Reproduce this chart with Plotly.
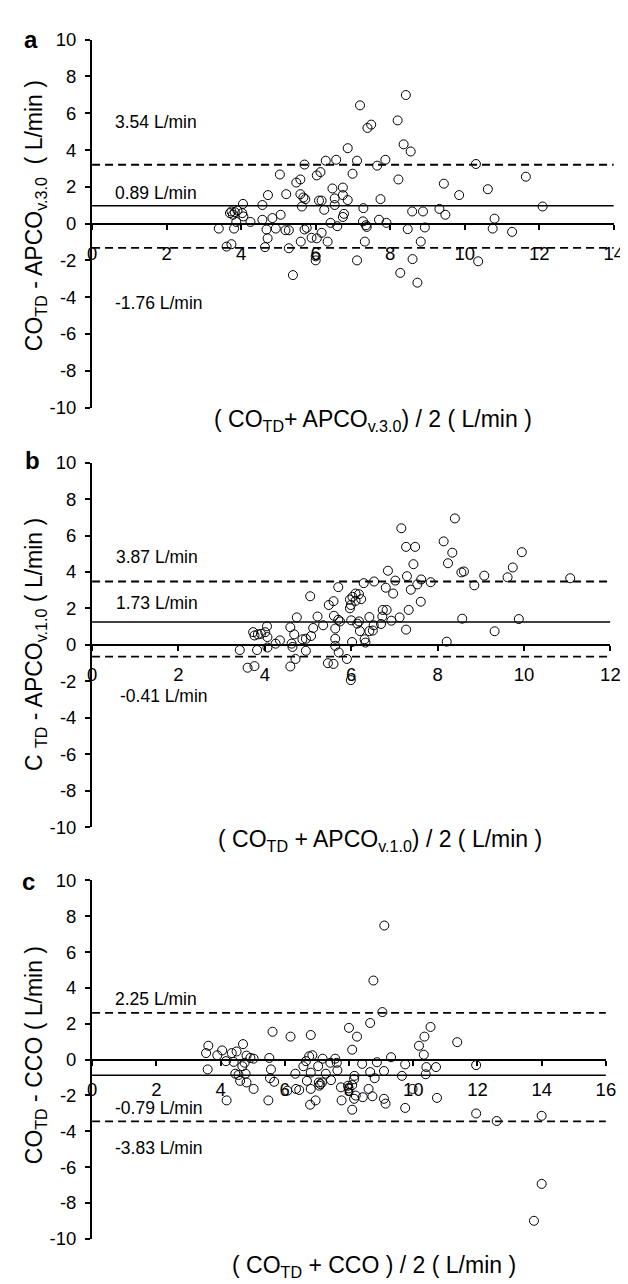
import plotly.graph_objects as go

# ---------------- data ----------------
# Panel a: CO_TD vs APCO v.3.0
a_avg = [8.42, 7.19, 7.49, 7.39, 8.20, 8.36, 8.55, 6.86, 7.87, 7.65, 7.11, 6.55, 6.27, 5.70,
         5.04, 6.13, 6.03, 6.99, 5.48, 5.59, 8.22, 9.44, 6.45, 6.73, 4.72, 5.21, 5.59, 5.67,
         5.72, 6.73, 6.51, 6.86, 6.09, 6.16, 7.74, 9.85, 4.05, 4.57, 5.63, 6.51, 6.23, 7.28,
         3.74, 3.70, 3.83, 3.90, 4.03, 3.78, 4.06, 8.59, 8.88, 9.32, 9.48, 5.06, 6.76, 6.73,
         4.84, 4.57, 4.25, 3.87, 7.27, 7.70, 7.90, 6.40, 7.37, 7.35, 6.58, 3.40, 3.81, 4.68,
         4.93, 5.19, 5.28, 5.70, 5.76, 6.16, 8.47, 8.93, 4.71, 5.89, 6.03, 5.60, 6.32, 7.32,
         8.82, 3.61, 3.74, 4.64, 5.28, 6.00, 6.00, 7.11, 8.60, 5.39, 8.27, 8.73, 10.30, 10.62,
         11.64, 12.09, 10.80, 10.75, 11.27, 10.36]
a_diff = [6.99, 6.43, 5.38, 5.20, 5.61, 4.31, 3.92, 4.10, 3.47, 3.15, 3.42, 3.47, 3.42, 3.21,
          2.67, 2.80, 2.62, 2.71, 2.23, 2.40, 2.40, 2.17, 1.91, 1.96, 1.55, 1.60, 1.60, 1.42,
          1.33, 1.55, 1.37, 1.28, 1.25, 1.25, 1.33, 1.55, 1.07, 1.01, 0.93, 1.01, 0.75, 0.84,
          0.66, 0.57, 0.62, 0.71, 0.57, 0.48, 0.39, 0.66, 0.66, 0.80, 0.48, 0.48, 0.53, 0.36,
          0.30, 0.21, 0.09, 0.09, 0.12, 0.21, 0.04, 0.04, -0.18, -0.09, -0.14, -0.27, -0.27, -0.32,
          -0.27, -0.36, -0.36, -0.32, -0.23, -0.50, -0.30, -0.21, -0.80, -0.77, -0.80, -0.98, -0.98, -0.98,
          -0.98, -1.25, -1.12, -1.28, -1.34, -1.78, -2.00, -2.00, -1.93, -2.80, -2.68, -3.21, 3.24, 1.87,
          2.55, 0.93, 0.27, -0.27, -0.45, -2.05]
a_lines = [3.20, 0.97, -1.32]          # upper limit, bias, lower limit (as drawn)
a_labels = ["3.54 L/min", "0.89 L/min", "-1.76 L/min"]

# Panel b: CO_TD vs APCO v.1.0
b_avg = [8.40, 7.16, 7.27, 7.48, 8.14, 8.34, 8.24, 7.44, 6.85, 8.55, 8.61, 9.08, 7.29, 7.62,
         7.84, 7.02, 6.53, 6.29, 7.53, 6.80, 7.38, 8.85, 6.97, 5.70, 7.61, 5.05, 5.48, 5.59,
         6.10, 6.18, 6.03, 5.97, 6.10, 6.23, 5.97, 5.99, 6.73, 6.82, 7.33, 4.74, 5.22, 5.60,
         5.70, 5.74, 6.42, 6.72, 7.12, 8.57, 6.00, 6.18, 6.14, 4.05, 4.59, 5.12, 5.35, 5.63,
         6.52, 6.69, 6.93, 7.27, 6.20, 6.42, 6.50, 3.73, 3.76, 3.84, 3.91, 4.01, 4.06, 4.68,
         5.07, 4.87, 4.95, 4.35, 4.25, 4.06, 4.62, 4.64, 5.63, 6.31, 6.33, 6.02, 5.63, 8.21,
         3.42, 3.82, 4.95, 4.71, 4.59, 5.71, 5.46, 5.59, 5.90, 3.60, 3.76, 5.99, 9.95, 9.74,
         9.62, 11.07, 9.88, 9.32]
b_diff = [6.94, 6.40, 5.38, 5.38, 5.68, 5.06, 4.48, 4.43, 4.07, 3.98, 4.03, 3.80, 3.77, 3.59,
          3.44, 3.53, 3.48, 3.39, 3.32, 3.14, 3.03, 3.27, 2.82, 3.17, 2.37, 2.67, 2.19, 2.40,
          2.82, 2.78, 2.64, 2.49, 2.42, 2.51, 2.01, 2.19, 1.92, 1.92, 1.92, 1.51, 1.56, 1.60,
          1.38, 1.29, 1.53, 1.56, 1.51, 1.44, 1.35, 1.29, 1.17, 1.02, 0.97, 0.93, 1.08, 0.90,
          1.08, 1.15, 1.33, 0.84, 0.76, 0.76, 0.79, 0.70, 0.52, 0.58, 0.61, 0.70, 0.43, 0.58,
          0.49, 0.31, 0.34, 0.25, 0.07, -0.14, 0.07, -0.11, 0.34, 0.31, 0.13, 0.16, -0.05, 0.18,
          -0.28, -0.28, -0.32, -0.77, -1.18, -0.41, -1.00, -1.04, -0.77, -1.25, -1.16, -1.93, 5.09, 4.25,
          3.71, 3.66, 1.42, 0.75]
b_lines = [3.48, 1.26, -0.64]
b_labels = ["3.87 L/min", "1.73 L/min", "-0.41 L/min"]

# Panel c: CO_TD vs CCO
c_avg = [9.04, 8.66, 8.00, 8.25, 10.54, 10.35, 10.18, 10.33, 11.37, 5.62, 6.18, 6.81, 8.10, 3.62,
         3.55, 4.05, 3.90, 4.35, 4.50, 4.70, 4.17, 4.41, 4.81, 4.93, 5.03, 4.75, 4.68, 3.60,
         4.46, 4.56, 4.78, 4.61, 4.81, 5.03, 4.19, 5.52, 5.57, 5.54, 5.67, 5.49, 6.33, 6.08,
         6.35, 6.45, 6.58, 6.76, 6.86, 6.66, 7.18, 7.04, 6.81, 6.69, 6.81, 7.06, 7.11, 7.16,
         7.08, 7.28, 7.42, 7.57, 7.62, 7.64, 7.44, 6.96, 6.79, 7.75, 7.97, 7.99, 8.17, 8.16,
         8.10, 8.21, 8.16, 7.77, 8.10, 8.41, 8.43, 8.66, 8.61, 8.73, 8.80, 8.87, 9.09, 9.31,
         9.09, 9.14, 9.65, 9.75, 9.98, 9.75, 10.39, 10.41, 10.71, 10.74, 9.10, 8.76, 11.96, 11.96,
         12.60, 14.00, 14.00, 13.76]
c_diff = [2.65, 2.04, 1.77, 1.28, 1.82, 1.28, 0.77, 0.27, 0.97, 1.55, 1.28, 1.37, 0.55, 0.77,
          0.36, 0.51, 0.24, 0.36, 0.45, 0.86, -0.09, -0.13, 0.22, 0.09, 0.05, -0.18, -0.37, -0.55,
          -0.79, -0.86, -0.79, -1.19, -1.28, -1.64, -2.28, 0.09, -0.55, -1.04, -1.24, -2.28, -0.79, -1.74,
          -1.64, -1.70, -0.37, 0.18, 0.24, -0.09, 0.05, -0.37, -0.73, -1.19, -1.64, -1.28, -1.37, -1.28,
          -1.46, -0.79, -0.18, 0.05, -0.18, -0.60, -1.15, -2.28, -2.52, -1.55, -1.46, -1.61, -0.91, -1.10,
          -1.43, -2.01, -2.19, -2.28, -2.80, -0.24, -2.10, -0.70, -1.64, -2.05, -1.04, -0.15, -0.64, 0.13,
          -2.19, -2.46, -0.91, -0.27, -1.64, -2.70, -0.82, -0.42, -0.42, -2.14, 7.48, 4.41, -0.31, -3.01,
          -3.43, -3.14, -6.94, -9.00]
c_lines = [2.61, -0.88, -3.45]
c_labels = ["2.25 L/min", "-0.79 L/min", "-3.83 L/min"]

x_maxes = [14, 12, 16]
y_ticks = [-10, -8, -6, -4, -2, 0, 2, 4, 6, 8, 10]
y_ticktext = ["-10", "-8", "-6", "-4", "-2", "0", "2", "4", "6", "8", "10"]
panel_letters = ["a", "b", "c"]
x_titles = ["( CO<sub>TD</sub>+ APCO<sub>v.3.0</sub>) / 2 ( L/min )",
            "( CO<sub>TD</sub> + APCO<sub>v.1.0</sub>) / 2 ( L/min )",
            "( CO<sub>TD</sub> + CCO ) / 2 ( L/min )"]
y_titles = ["CO<sub>TD</sub> - APCO<sub>v.3.0</sub>  ( L/min )",
            "C <sub>TD</sub> - APCO<sub>v.1.0</sub> ( L/min )",
            "CO<sub>TD</sub> - CCO ( L/min )"]

# ---------------- layout geometry ----------------
W, H = 628, 1284
FONT = "Liberation Sans, Arial, Helvetica, sans-serif"
x_domains = [[81.0 / W, 615.5 / W], [81.0 / W, 612.0 / W], [81.0 / W, 607.4 / W]]
y_domains = [[1 - 395.0 / H, 1 - 21.0 / H], [1 - 821.7 / H, 1 - 451.0 / H], [1 - 1240.0 / H, 1 - 875.7 / H]]
label_pos = [[(0.55, 5.52), (0.55, 1.69), (0.55, -4.33)],
             [(0.50, 4.82), (0.50, 2.31), (0.60, -2.80)],
             [(0.64, 3.37), (0.64, -2.70), (0.64, -4.93)]]
xtitle_px = [(369, 408), (376, 835), (370, 1268)]
ytitle_py = [200, 636, 1053]
letter_px = [(18, 21), (20, 449), (16, 877)]

datasets = [(a_avg, a_diff, a_lines, a_labels),
            (b_avg, b_diff, b_lines, b_labels),
            (c_avg, c_diff, c_lines, c_labels)]

fig = go.Figure()
annotations = []
layout_axes = {}

for i, (avg, diff, lines, labels) in enumerate(datasets):
    n = "" if i == 0 else str(i + 1)
    xa, ya = "x" + n, "y" + n
    xmax = x_maxes[i]
    # limit/bias lines
    for j, v in enumerate(lines):
        fig.add_trace(go.Scatter(
            x=[0, xmax], y=[v, v], mode="lines", xaxis=xa, yaxis=ya,
            line=dict(color="black", width=1.8 if j != 1 else 1.5,
                      dash="8px,5px" if j != 1 else "solid"),
            hoverinfo="skip", showlegend=False))
    # points
    fig.add_trace(go.Scatter(
        x=avg, y=diff, mode="markers", xaxis=xa, yaxis=ya,
        marker=dict(symbol="circle-open", size=9, color="black", line=dict(width=1)),
        showlegend=False))

    yd = y_domains[i]
    ymid = (yd[0] + yd[1]) / 2
    layout_axes["xaxis" + n] = dict(
        domain=x_domains[i], range=[0, xmax], anchor="free", position=ymid,
        showline=True, linecolor="black", linewidth=2,
        ticks="outside", ticklen=5, tickwidth=1.5, tickcolor="black",
        tickvals=list(range(0, xmax + 1, 2)), ticklabelstandoff=8,
        showgrid=False, zeroline=False,
        tickfont=dict(family=FONT, size=18.5, color="black"))
    layout_axes["yaxis" + n] = dict(
        domain=yd, range=[-10, 10], anchor=xa,
        showline=True, linecolor="black", linewidth=2,
        ticks="outside", ticklen=5, tickwidth=1.5, tickcolor="black",
        tickvals=y_ticks, ticktext=y_ticktext, ticklabelstandoff=5,
        showgrid=False, zeroline=False,
        tickfont=dict(family=FONT, size=18.5, color="black"))

    for (lx, ly), txt in zip(label_pos[i], labels):
        annotations.append(dict(x=lx, y=ly, xref=xa, yref=ya, text=txt, showarrow=False,
                                xanchor="left", yanchor="middle",
                                font=dict(family=FONT, size=17.5, color="black")))
    tx, ty = xtitle_px[i]
    annotations.append(dict(x=tx / W, y=1 - ty / H, xref="paper", yref="paper",
                            text=x_titles[i], showarrow=False, xanchor="center", yanchor="middle",
                            font=dict(family=FONT, size=23, color="black")))
    annotations.append(dict(x=23 / W, y=1 - ytitle_py[i] / H, xref="paper", yref="paper",
                            text=y_titles[i], showarrow=False, textangle=-90,
                            xanchor="center", yanchor="middle",
                            font=dict(family=FONT, size=23, color="black")))
    lx, ly = letter_px[i]
    annotations.append(dict(x=lx / W, y=1 - ly / H, xref="paper", yref="paper",
                            text="<b>" + panel_letters[i] + "</b>", showarrow=False,
                            xanchor="center", yanchor="middle",
                            font=dict(family=FONT, size=24, color="black")))

fig.update_layout(
    width=W, height=H, margin=dict(l=0, r=0, t=0, b=0),
    paper_bgcolor="white", plot_bgcolor="white", showlegend=False,
    annotations=annotations, **layout_axes)

fig.write_html("out.html")
